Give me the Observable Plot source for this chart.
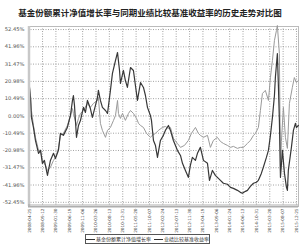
<!DOCTYPE html>
<html>
<head>
<meta charset="utf-8">
<script src="https://cdn.jsdelivr.net/npm/d3@7"></script>
<script src="https://cdn.jsdelivr.net/npm/@observablehq/plot@0.6"></script>
<style>
  html, body { margin: 0; padding: 0; background: #fff; }
  #wrap { position: relative; width: 300px; height: 247px; overflow: hidden; font-family: "Noto Sans CJK SC", sans-serif; }
  #title { position: absolute; left: 0; top: 7px; width: 300px; height: 11px; text-align: center; font-size: 8.5px; font-weight: bold; color: #222; line-height: 11px; white-space: nowrap; }
  #chart { position: absolute; left: 0; top: 22px; }
  #legend { position: absolute; left: 85px; top: 234px; width: 125px; height: 10px; border: 1px solid #555; box-sizing: border-box; font-size: 5px; line-height: 8px; color: #333; white-space: nowrap; display: flex; align-items: center; justify-content: center; }
  .sw { display: inline-block; width: 9px; height: 0; border-top: 1px solid #333; margin-right: 1px; vertical-align: middle; }
</style>
</head>
<body>
<div id="wrap">
  <div id="title"></div>
  <div id="chart"></div>
  <div id="legend"></div>
</div>
<script>
const titleText = "基金份额累计净值增长率与同期业绩比较基准收益率的历史走势对比图";
const seriesNames = ["基金份额累计净值增长率", "业绩比较基准收益率"];
const seriesColors = ["#383838", "#9a9a9a"];

const tickLabels = ["2008-04-25","2008-09-12","2009-01-30","2009-06-19","2009-11-06","2010-03-26","2010-08-13","2010-12-31","2011-05-20","2011-10-07","2012-02-24","2012-07-13","2012-11-30","2013-04-19","2013-09-06","2014-01-24","2014-06-13","2014-10-31","2015-03-20","2015-08-07","2015-12-25"];
const yTicks = [-52.45, -41.96, -31.47, -20.98, -10.49, 0, 10.49, 20.98, 31.47, 41.96, 52.45];

// position along the time axis, in units of x-tick intervals (0 = first tick label)
const fundPos = [0.02,0.10,0.14,0.17,0.32,0.47,0.70,0.85,0.99,1.14,1.37,1.59,1.82,1.97,2.19,2.34,2.56,2.86,3.09,3.24,3.31,3.39,3.54,3.69,3.84,4.06,4.21,4.36,4.58,4.73,4.96,5.11,5.18,5.33,5.48,5.71,5.86,6.08,6.23,6.46,6.61,6.76,6.83,7.05,7.20,7.35,7.58,7.80,7.95,8.10,8.33,8.55,8.70,8.85,9.07,9.15,9.30,9.45,9.60,9.82,10.04,10.19,10.42,10.57,10.79,11.09,11.32,11.47,11.69,11.91,12.06,12.21,12.44,12.59,12.81,13.04,13.34,13.49,13.71,13.93,14.08,14.31,14.53,14.83,15.06,15.28,15.58,15.80,15.95,16.18,16.33,16.55,16.78,17.00,17.15,17.37,17.52,17.75,17.90,18.05,18.20,18.35,18.42,18.57,18.65,18.72,18.80,18.95,19.10,19.25,19.32,19.39,19.54,19.62,19.77,19.92,19.99,20.14];
const fundValues = [17.3,11.2,3.3,-0.9,-7.0,-14.9,-22.7,-20.9,-28.8,-27.0,-36.1,-27.0,-22.7,-25.8,-20.9,-10.6,-11.8,-7.0,0.3,9.4,12.4,6.4,-13.0,-5.8,-2.7,5.2,2.1,9.4,4.5,-0.9,6.4,11.2,15.5,9.4,5.2,3.3,1.5,15.5,25.8,33.7,38.5,27.6,19.7,27.6,21.5,17.3,29.4,27.6,18.5,9.4,20.3,17.3,12.4,5.2,0.3,-2.7,-14.9,-18.0,-25.2,-14.9,-11.8,-8.8,-5.8,-8.8,-14.9,-20.9,-24.0,-28.8,-33.1,-37.3,-30.0,-25.2,-27.0,-22.7,-19.1,-27.0,-28.8,-39.1,-33.1,-36.1,-37.3,-39.1,-40.9,-41.5,-43.4,-44.0,-45.2,-46.4,-47.0,-45.8,-45.2,-42.8,-40.9,-40.3,-39.1,-34.9,-31.2,-25.2,-20.9,-11.8,-0.9,12.4,23.3,37.9,17.3,-2.7,-37.3,-20.9,-34.9,-43.4,-45.2,-33.1,-24.0,-19.1,-8.8,-4.5,-7.0,-5.8];

const benchPos = [0.02,0.10,0.17,0.32,0.47,0.70,0.85,0.99,1.22,1.37,1.59,1.82,1.97,2.19,2.34,2.56,2.86,3.09,3.24,3.31,3.54,3.69,3.84,4.06,4.36,4.58,4.81,5.11,5.18,5.33,5.48,5.71,5.86,6.08,6.31,6.46,6.61,6.68,6.83,6.98,7.20,7.43,7.58,7.80,8.03,8.18,8.33,8.55,8.78,9.07,9.22,9.45,9.67,9.97,10.19,10.42,10.57,10.79,11.09,11.32,11.62,11.91,12.14,12.44,12.66,12.81,13.04,13.34,13.56,13.78,14.08,14.31,14.53,14.83,15.06,15.28,15.58,15.80,16.03,16.33,16.55,16.78,16.93,17.15,17.30,17.45,17.67,17.90,18.05,18.20,18.35,18.50,18.57,18.72,18.80,18.87,19.02,19.17,19.32,19.47,19.69,19.84,19.99,20.14];
const benchValues = [18.5,12.4,3.3,-5.8,-13.0,-20.9,-20.9,-27.0,-30.0,-33.1,-31.2,-27.0,-25.2,-19.7,-11.8,-10.6,-5.8,0.3,4.5,1.5,-5.8,-1.5,1.5,3.3,7.6,5.2,7.6,9.4,11.2,-4.5,-8.8,-13.0,-8.8,-7.0,-2.7,0.3,9.4,1.5,-1.5,1.5,-2.7,1.5,3.3,1.5,-1.5,-4.5,-5.8,-7.0,-10.6,-13.0,-11.8,-10.6,-8.8,-7.0,-6.4,-7.6,-7.0,-13.6,-16.7,-19.1,-17.9,-14.9,-10.6,-7.0,-10.6,-11.8,-13.0,-11.8,-19.1,-14.9,-13.0,-15.5,-16.7,-17.9,-19.1,-18.5,-19.7,-19.1,-19.1,-16.7,-14.9,-11.8,-10.6,-7.0,3.3,13.6,15.5,9.4,23.3,33.7,45.8,51.9,54.9,37.9,-33.1,-15.5,5.2,-13.0,-19.7,7.6,17.3,23.3,20.3,21.5];

document.getElementById("title").textContent = titleText;

const fund = fundPos.map((p, i) => ({pos: p, value: fundValues[i]}));
const bench = benchPos.map((p, i) => ({pos: p, value: benchValues[i]}));

const chart = Plot.plot({
  width: 300,
  height: 212,
  marginLeft: 28,
  marginRight: 2,
  marginTop: 4,
  marginBottom: 28,
  style: {fontFamily: "DejaVu Sans, sans-serif", background: "#fff"},
  x: {domain: [-0.05, 20.15], axis: null, label: null},
  y: {domain: [-55, 54.3], axis: null, label: null},
  marks: [
    Plot.gridX(d3.range(tickLabels.length), {stroke: "#999", strokeOpacity: 0.9, strokeDasharray: "1,1.5"}),
    Plot.gridY(yTicks, {stroke: "#999", strokeOpacity: 0.9, strokeDasharray: "1,1.5"}),
    Plot.frame({stroke: "#bbb"}),
    Plot.axisY(yTicks, {label: null, tickSize: 0, tickPadding: 4, fontSize: 5.2, fill: "#555", tickFormat: d => d.toFixed(2) + "%"}),
    Plot.axisX(d3.range(tickLabels.length), {label: null, tickSize: 0, tickPadding: 2, tickRotate: -90, fontSize: 4.2, fill: "#444", tickFormat: i => tickLabels[i]}),
    Plot.line(bench, {x: "pos", y: "value", stroke: seriesColors[1], strokeWidth: 1}),
    Plot.line(fund, {x: "pos", y: "value", stroke: seriesColors[0], strokeWidth: 1.2}),
    Plot.ruleX([-0.05], {stroke: "#c8c8c8", strokeWidth: 2.5, dx: 0.5}),
    Plot.ruleY([-55], {stroke: "#999", strokeWidth: 0.8, dy: -1.5}),
    Plot.ruleY([-55], {stroke: "#999", strokeWidth: 0.8, dy: 0.5})
  ]
});
document.getElementById("chart").appendChild(chart);

const legend = document.getElementById("legend");
seriesNames.forEach((n, i) => {
  const s = document.createElement("span");
  s.style.marginRight = i === 0 ? "3px" : "0";
  s.innerHTML = `<span class="sw"></span>${n}`;
  legend.appendChild(s);
});
</script>
</body>
</html>
